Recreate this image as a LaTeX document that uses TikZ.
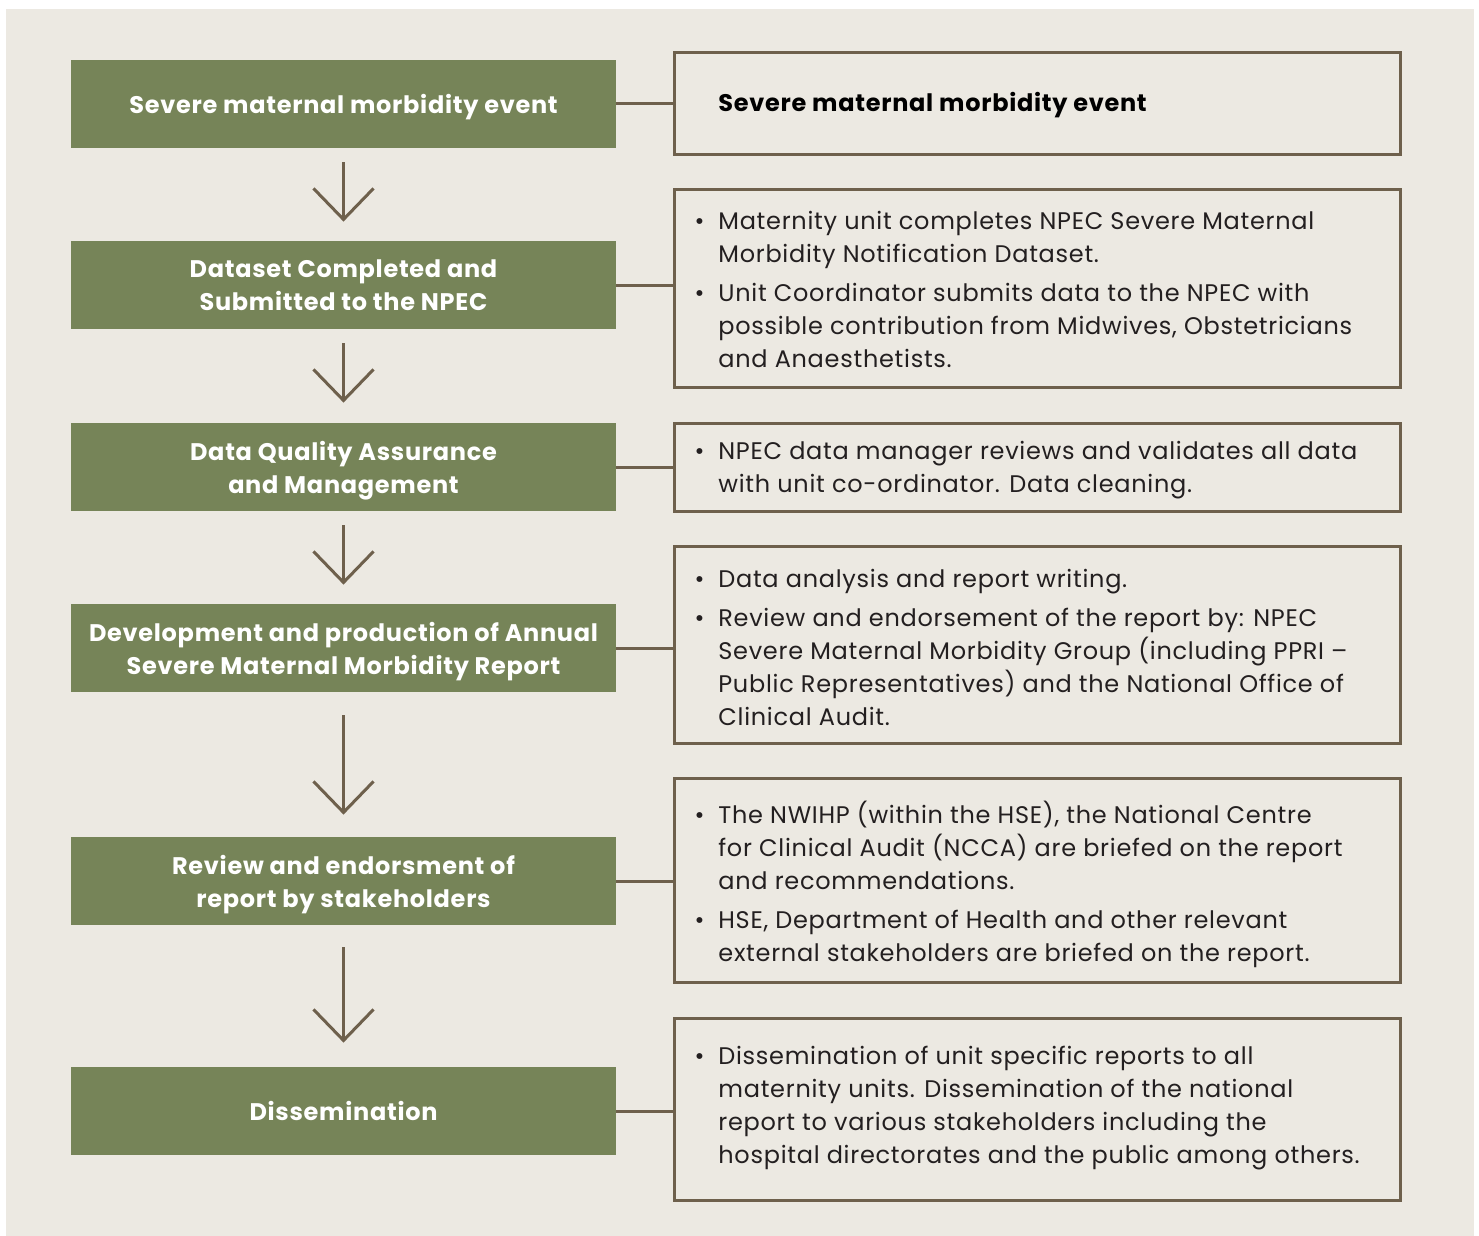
\documentclass[tikz,border=0pt]{standalone}
\usepackage{fontspec}
\setmainfont{Poppins}[LetterSpace=3]
\usetikzlibrary{arrows.meta}
\definecolor{bgc}{HTML}{ECE9E2}
\definecolor{grn}{HTML}{768458}
\definecolor{brn}{HTML}{6E604C}
\definecolor{txt}{HTML}{231F20}
\begin{document}
\begin{tikzpicture}[x=0.5pt,y=-0.5pt,
  stage/.style={fill=grn, minimum width=272.5pt, minimum height=44pt, inner sep=0pt,
    text depth=0pt, text=white, align=center, font=\fontsize{12pt}{16.5pt}\selectfont\bfseries},
  infobox/.style={draw=brn, line width=1.5pt, minimum width=363pt, inner sep=0pt},
  infotext/.style={anchor=west, align=left, inner sep=0pt, text=txt,
    font=\fontsize{12pt}{16.5pt}\selectfont},
  link/.style={draw=brn, line width=1.5pt},
  flow/.style={draw=brn, line width=1.5pt, -{Straight Barb[length=15.5pt,width=30pt,line width=1.5pt]}}
]
\newcommand\bul{\llap{\textbullet\hspace{7pt}}}
\useasboundingbox (0,0) rectangle (1479,1236);
\fill[bgc] (6,9) rectangle (1474,1236);

% left stages
\node[stage] (g1) at (343.5,104) {Severe maternal morbidity event};
\node[stage] (g2) at (343.5,285) {Dataset Completed and\\Submitted to the NPEC};
\node[stage] (g3) at (343.5,467) {Data Quality Assurance\\and Management};
\node[stage] (g4) at (343.5,648) {Development and production of Annual\\Severe Maternal Morbidity Report};
\node[stage] (g5) at (343.5,881) {Review and endorsment of\\report by stakeholders};
\node[stage] (g6) at (343.5,1111) {Dissemination};

% right boxes
\node[infobox, minimum height=51pt] (r1) at (1037,104) {};
\node[infobox, minimum height=98.5pt] (r2) at (1037,288.5) {};
\node[infobox, minimum height=44pt] (r3) at (1037,467) {};
\node[infobox, minimum height=98.5pt] (r4) at (1037,644.5) {};
\node[infobox, minimum height=102pt] (r5) at (1037,880) {};
\node[infobox, minimum height=91pt] (r6) at (1037,1109) {};

\node[infotext, font=\fontsize{12pt}{16.5pt}\selectfont\bfseries, text=black] (t1) at (718,105) {Severe maternal morbidity event};
\node[infotext] (t2) at (718,289) {\bul Maternity unit completes NPEC Severe Maternal\\Morbidity Notification Dataset.\\[3pt]
\bul Unit Coordinator submits data to the NPEC with\\possible contribution from Midwives, Obstetricians\\and Anaesthetists.};
\node[infotext] (t3) at (718,470) {\bul NPEC data manager reviews and validates all data\\with unit co-ordinator. Data cleaning.};
\node[infotext] (t4) at (718,647) {\bul Data analysis and report writing.\\[3pt]
\bul Review and endorsement of the report by: NPEC\\Severe Maternal Morbidity Group (including PPRI --\\Public Representatives) and the National Office of\\Clinical Audit.};
\node[infotext] (t5) at (718,884) {\bul The NWIHP (within the HSE), the National Centre\\for Clinical Audit (NCCA) are briefed on the report\\and recommendations.\\[3pt]
\bul HSE, Department of Health and other relevant\\external stakeholders are briefed on the report.};
\node[infotext] (t6) at (718,1108) {\bul Dissemination of unit specific reports to all\\maternity units. Dissemination of the national\\report to various stakeholders including the\\hospital directorates and the public among others.};

% links
\foreach \i in {1,...,6}{
  \draw[link] (g\i.east) -- (g\i.east -| r\i.west);
}

% flow arrows
\draw[flow] ([yshift=-7pt]g1.south) -- ([yshift=9.5pt]g2.north);
\draw[flow] ([yshift=-7pt]g2.south) -- ([yshift=10pt]g3.north);
\draw[flow] ([yshift=-7pt]g3.south) -- ([yshift=9.5pt]g4.north);
\draw[flow] ([yshift=-11.5pt]g4.south) -- ([yshift=11pt]g5.north);
\draw[flow] ([yshift=-11pt]g5.south) -- ([yshift=12pt]g6.north);
\end{tikzpicture}
\end{document}
